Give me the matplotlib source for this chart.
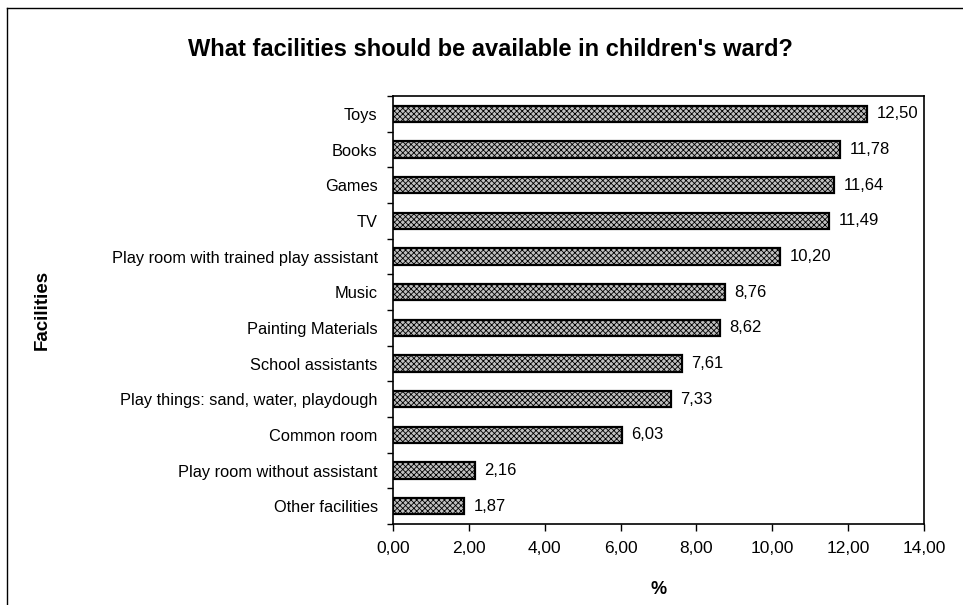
import matplotlib.pyplot as plt
from matplotlib.lines import Line2D

plt.rcParams['font.family'] = ['Liberation Sans', 'DejaVu Sans']
plt.rcParams['hatch.color'] = '#333333'
plt.rcParams['hatch.linewidth'] = 0.6

facilities = ["Toys", "Books", "Games", "TV", "Play room with trained play assistant",
              "Music", "Painting Materials", "School assistants",
              "Play things: sand, water, playdough", "Common room",
              "Play room without assistant", "Other facilities"]
percent = [12.50, 11.78, 11.64, 11.49, 10.20, 8.76, 8.62, 7.61, 7.33, 6.03, 2.16, 1.87]
xticks = [0, 2, 4, 6, 8, 10, 12, 14]

fig = plt.figure(figsize=(9.63, 6.05), dpi=100)
ax = fig.add_axes([393 / 963, 81 / 605, 531 / 963, 428 / 605])

# reversed so first category sits at the top
ypos = list(range(len(facilities)))[::-1]
ax.barh(ypos, percent, height=0.45, color='#c0c0c0', edgecolor='black',
        linewidth=1.6, hatch='xxxxxx')

for y, v in zip(ypos, percent):
    ax.text(v + 0.25, y, f"{v:.2f}".replace('.', ','), va='center', ha='left', fontsize=12)

ax.set_xlim(0, 14)
ax.set_ylim(-0.5, len(facilities) - 0.5)
ax.set_xticks(xticks)
ax.set_xticklabels([f"{t:.2f}".replace('.', ',') for t in xticks], fontsize=12.5)
ax.set_yticks(ypos)
ax.set_yticklabels(facilities, fontsize=11.8)
ax.set_yticks([i + 0.5 for i in range(-1, len(facilities))], minor=True)
ax.tick_params(axis='y', which='major', length=0, pad=11)
ax.tick_params(axis='y', which='minor', length=4, width=1)
ax.tick_params(axis='x', length=5, width=1, pad=7)
for s in ax.spines.values():
    s.set_linewidth(1.2)

ax.set_xlabel("%", fontsize=13, fontweight='bold', labelpad=18)
fig.text(42 / 963, 1 - 310 / 605, "Facilities", rotation=90, fontsize=13.5,
         fontweight='bold', ha='center', va='center')
fig.text(490 / 963, 1 - 49 / 605, "What facilities should be available in children's ward?",
         fontsize=17, fontweight='bold', ha='center', va='center')

# outer frame of the original chart
fig.add_artist(Line2D([7 / 963, 7 / 963], [0, 1 - 8 / 605], color='black', lw=1))
fig.add_artist(Line2D([7 / 963, 1], [1 - 8 / 605, 1 - 8 / 605], color='black', lw=1))

fig.savefig("out.png", dpi=100)
